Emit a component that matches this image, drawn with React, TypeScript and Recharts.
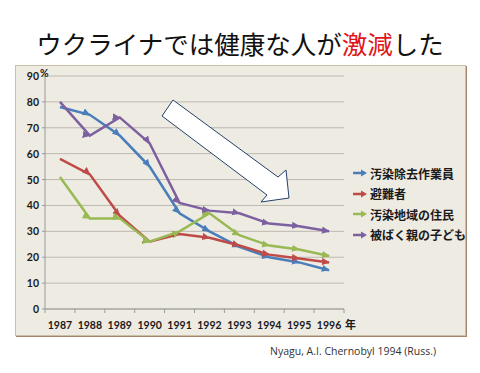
import { CartesianGrid, Line, LineChart, XAxis, YAxis } from "recharts";

const years = [1987, 1988, 1989, 1990, 1991, 1992, 1993, 1994, 1995, 1996];
const workers = [78, 75, 67, 55, 37, 30, 24, 20, 18, 15];
const evacuees = [58, 52, 36, 26, 29, 27.5, 24.5, 21, 19.5, 18];
const residents = [51, 35, 35, 26, 30, 37, 28.5, 24.5, 23, 20.5];
const children = [80, 67, 74, 64, 41, 38, 37, 33, 32, 30];
const yTicks = [0, 10, 20, 30, 40, 50, 60, 70, 80, 90];
const xTicks = [1986.5, 1987.5, 1988.5, 1989.5, 1990.5, 1991.5, 1992.5, 1993.5, 1994.5, 1995.5, 1996.5];

const series = [
  { key: "workers", name: "汚染除去作業員", color: "#4a7ebb", marker: "arrB" },
  { key: "evacuees", name: "避難者", color: "#be4b48", marker: "arrR" },
  { key: "residents", name: "汚染地域の住民", color: "#98b954", marker: "arrG" },
  { key: "children", name: "被ばく親の子ども", color: "#7d60a0", marker: "arrP" }
];

const data = years.map((year, i) => ({
  year,
  workers: workers[i],
  evacuees: evacuees[i],
  residents: residents[i],
  children: children[i]
}));

const W = 480;
const H = 373;
const plot = { left: 45, top: 76, right: 344, bottom: 309 };
const halfBand = (plot.right - plot.left) / years.length / 2;
const tickFont = { fontFamily: "Lato, 'Liberation Sans', sans-serif", fontSize: 10.5, fontWeight: 700, fill: "#1a1a1a" };

function XTick(props: any) {
  const { x, y, payload } = props;
  const v = payload.value;
  if (v >= 1996.5) {
    return (
      <text x={x + 1} y={y + 14} style={{ ...tickFont, fontFamily: "'Noto Sans CJK JP', sans-serif", fontSize: 11 }}>
        年
      </text>
    );
  }
  return (
    <text x={x + halfBand} y={y + 14} textAnchor="middle" style={tickFont}>
      {Math.round(v + 0.5)}
    </text>
  );
}

function YTick(props: any) {
  const { x, y, payload } = props;
  return (
    <g>
      <text x={x - 1} y={y + 4} textAnchor="end" style={tickFont}>
        {payload.value}
      </text>
      {payload.value === 90 && (
        <text x={x} y={y + 1} style={tickFont}>
          %
        </text>
      )}
    </g>
  );
}

function LegendBox() {
  return (
    <div style={{ fontFamily: "'Noto Sans CJK JP', sans-serif", fontSize: 12, fontWeight: 700, color: "#1a1a1a" }}>
      {series.map((s) => (
        <div key={s.key} style={{ display: "flex", alignItems: "center", height: 20.5 }}>
          <svg width={16} height={10} style={{ marginRight: 2 }}>
            <line x1={1} y1={5} x2={10} y2={5} stroke={s.color} strokeWidth={2.5} />
            <path d="M9,1.5 L15,5 L9,8.5 z" fill={s.color} />
          </svg>
          <span>{s.name}</span>
        </div>
      ))}
    </div>
  );
}

export default function App() {
  return (
    <div style={{ position: "absolute", left: 0, top: 0, width: W, height: H, background: "#fff", overflow: "hidden" }}>
      <svg width={0} height={0} style={{ position: "absolute" }}>
        <defs>
          {series.map((s) => (
            <marker
              key={s.marker}
              id={s.marker}
              viewBox="0 0 10 10"
              refX={9}
              refY={5}
              markerUnits="userSpaceOnUse"
              markerWidth={8}
              markerHeight={8}
              orient="auto"
            >
              <path d="M0,0.5 L10,5 L0,9.5 z" fill={s.color} />
            </marker>
          ))}
        </defs>
      </svg>
      <div
        style={{
          position: "absolute",
          left: 0,
          top: 28,
          width: W,
          textAlign: "center",
          fontFamily: "'Noto Sans CJK JP', sans-serif",
          fontSize: 25.5,
          lineHeight: "30px",
          color: "#111"
        }}
      >
        ウクライナでは健康な人が<span style={{ color: "#e0161b" }}>激減</span>した
      </div>
      <div
        style={{
          position: "absolute",
          left: 15,
          top: 65,
          width: 449,
          height: 269,
          background: "#eeebe2",
          border: "1px solid #cbbfa8",
          boxShadow: "1px 1px 0 #a5856a"
        }}
      />
      <div style={{ position: "absolute", left: 0, top: 0 }}>
        <LineChart
          width={W}
          height={H}
          data={data}
          margin={{ top: plot.top, right: W - plot.right, left: plot.left - 30, bottom: H - plot.bottom - 25 }}
        >
          <CartesianGrid vertical={false} stroke="#bdb9b0" strokeWidth={1} />
          <XAxis
            dataKey="year"
            type="number"
            domain={[1986.5, 1996.5]}
            ticks={xTicks}
            interval={0}
            height={25}
            stroke="#9a9a9a"
            tickSize={4}
            tick={<XTick />}
          />
          <YAxis
            domain={[0, 90]}
            ticks={yTicks}
            interval={0}
            width={30}
            stroke="#9a9a9a"
            tickSize={3}
            tick={<YTick />}
          />
          {series.map((s) => (
            <Line
              key={s.key}
              type="linear"
              dataKey={s.key}
              name={s.name}
              stroke={s.color}
              strokeWidth={2.5}
              dot={false}
              activeDot={false}
              markerMid={`url(#${s.marker})`}
              markerEnd={`url(#${s.marker})`}
              isAnimationActive={false}
            />
          ))}
        </LineChart>
      </div>
      <div style={{ position: "absolute", left: 352, top: 163 }}>
        <LegendBox />
      </div>
      <svg width={W} height={H} style={{ position: "absolute", left: 0, top: 0, pointerEvents: "none" }}>
        <polygon
          points="173,100 278,177 286,170 289,198 261,202 267,195 162,116"
          fill="#fff"
          stroke="#24406b"
          strokeWidth={1}
        />
      </svg>
      <div
        style={{
          position: "absolute",
          left: 270,
          top: 344,
          fontFamily: "'Open Sans', 'Liberation Sans', sans-serif",
          fontSize: 10.5,
          color: "#333"
        }}
      >
        Nyagu, A.I. Chernobyl 1994 (Russ.)
      </div>
    </div>
  );
}
